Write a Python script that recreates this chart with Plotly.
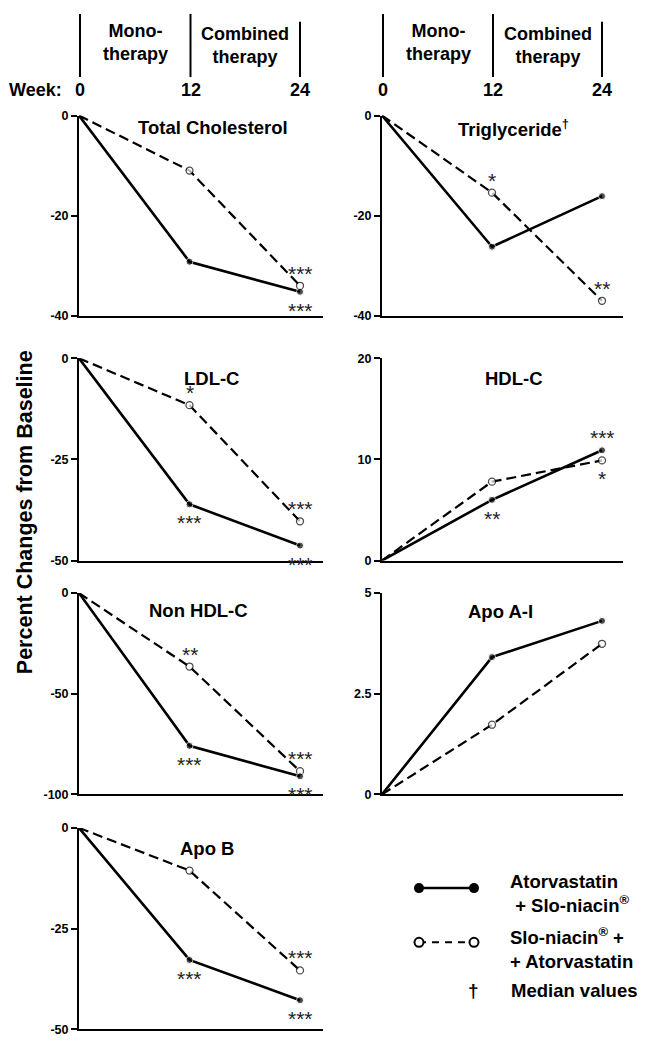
import plotly.graph_objects as go

W, H = 651, 1050
FONT = "Liberation Sans, Arial, sans-serif"

weeks = [0, 12, 24]

panel_names = ["Total Cholesterol", "Triglyceride<sup>†</sup>", "LDL-C", "HDL-C",
               "Non HDL-C", "Apo A-I", "Apo B"]
atorva_first = {
    "Total Cholesterol": [0, -29.2, -35.2],
    "Triglyceride": [0, -26.2, -16.1],
    "LDL-C": [0, -36.1, -46.3],
    "HDL-C": [0, 6.0, 10.9],
    "Non HDL-C": [0, -75.9, -91.0],
    "Apo A-I": [0, 3.41, 4.31],
    "Apo B": [0, -32.8, -42.8],
}
niacin_first = {
    "Total Cholesterol": [0, -11.0, -34.0],
    "Triglyceride": [0, -15.4, -37.0],
    "LDL-C": [0, -11.6, -40.3],
    "HDL-C": [0, 7.8, 9.9],
    "Non HDL-C": [0, -36.5, -88.5],
    "Apo A-I": [0, 1.73, 3.74],
    "Apo B": [0, -10.6, -35.4],
}
y_ranges = {
    "Total Cholesterol": [-40, 0], "Triglyceride": [-40, 0], "LDL-C": [-50, 0],
    "HDL-C": [0, 20], "Non HDL-C": [-100, 0], "Apo A-I": [0, 5], "Apo B": [-50, 0],
}
y_ticks = {
    "Total Cholesterol": [0, -20, -40], "Triglyceride": [0, -20, -40],
    "LDL-C": [0, -25, -50], "HDL-C": [0, 10, 20], "Non HDL-C": [0, -50, -100],
    "Apo A-I": [0, 2.5, 5], "Apo B": [0, -25, -50],
}
# significance marks: (series, week index, text, above?)
stars = {
    "Total Cholesterol": [("n", 2, "***", True), ("a", 2, "***", False)],
    "Triglyceride": [("n", 1, "*", True), ("n", 2, "**", True)],
    "LDL-C": [("n", 1, "*", True), ("a", 1, "***", False), ("n", 2, "***", True), ("a", 2, "***", False)],
    "HDL-C": [("a", 1, "**", False), ("a", 2, "***", True), ("n", 2, "*", False)],
    "Non HDL-C": [("n", 1, "**", True), ("a", 1, "***", False), ("n", 2, "***", True), ("a", 2, "***", False)],
    "Apo A-I": [],
    "Apo B": [("a", 1, "***", False), ("n", 2, "***", True), ("a", 2, "***", False)],
}

# layout in pixels
LEFT = (79, 323, 300)      # x of axis, right end of x axis line, x of week 24
RIGHT = (382, 623, 602)
rows = [(110, 313), (356, 561), (594, 798), (832, 1036)]
cells = [(LEFT, rows[0]), (RIGHT, rows[0]), (LEFT, rows[1]), (RIGHT, rows[1]),
         (LEFT, rows[2]), (RIGHT, rows[2]), (LEFT, rows[3])]
title_pos = [(213, 122), (513, 123), (211, 377), (514, 377), (198, 612), (500, 613), (207, 853)]

def px(x):
    return x / W

def py(y):
    return 1 - y / H

fig = go.Figure()
annotations = []
shapes = []
for i, (title, ((x0, x1, x24), (yt, yb))) in enumerate(zip(panel_names, cells)):
    key = title.replace("<sup>†</sup>", "")
    n = i + 1
    xa = "x" if n == 1 else f"x{n}"
    ya = "y" if n == 1 else f"y{n}"
    xr = [0, 24 * (x1 - x0) / (x24 - x0)]
    fig.add_trace(go.Scatter(
        x=weeks, y=niacin_first[key], xaxis=xa, yaxis=ya, mode="lines+markers",
        line=dict(color="black", width=2.2, dash="10px,5px"),
        marker=dict(symbol="circle", size=[0, 7, 7], color="white",
                    line=dict(color="black", width=1.3)),
        cliponaxis=False, showlegend=False))
    fig.add_trace(go.Scatter(
        x=weeks, y=atorva_first[key], xaxis=xa, yaxis=ya, mode="lines+markers",
        line=dict(color="black", width=2.6),
        marker=dict(symbol="circle", size=[0, 7, 7], color="black"),
        cliponaxis=False, showlegend=False))
    sfx = "" if n == 1 else str(n)
    fig.layout["xaxis" + sfx] = dict(
        domain=[px(x0), px(x1)], range=xr, anchor=ya, showgrid=False, zeroline=False,
        showline=True, linecolor="black", linewidth=2, showticklabels=False, ticks="",
        fixedrange=True)
    fig.layout["yaxis" + sfx] = dict(
        domain=[py(yb), py(yt)], range=y_ranges[key], anchor=xa, showgrid=False,
        zeroline=False, showline=True, linecolor="black", linewidth=2,
        ticks="outside", ticklen=6, tickwidth=1.5, tickcolor="black",
        tickvals=y_ticks[key], ticktext=[f"{v:g}" for v in y_ticks[key]],
        tickfont=dict(family=FONT, size=12.5, color="black", weight="bold"), fixedrange=True)
    tx, ty = title_pos[i]
    annotations.append(dict(
        x=px(tx), y=py(ty), xref="paper", yref="paper",
        text=f"<b>{title}</b>", showarrow=False, xanchor="center", yanchor="middle",
        font=dict(family=FONT, size=18.5, color="black")))
    for ser, wi, txt, above in stars[key]:
        vals = niacin_first[key] if ser == "n" else atorva_first[key]
        annotations.append(dict(
            x=weeks[wi], y=vals[wi], xref=xa, yref=ya, text=txt, showarrow=False,
            xanchor="center", yanchor="middle", yshift=(12.5 if above else -18.5),
            font=dict(family=FONT, size=21, color="#222")))

# header with therapy phases
header_phases = ["<b>Mono-<br>therapy</b>", "<b>Combined<br>therapy</b>"]
header_y = [36, 39]
week_labels = ["0", "12", "24"]
line_tops = [7, 7, 15]
for (x0, x1, x24) in (LEFT, RIGHT):
    xs = [x0 + 1, x0 + 1 + (x24 - x0) / 2, x24]
    for xx, top in zip(xs, line_tops):
        shapes.append(dict(type="line", xref="paper", yref="paper",
                           x0=px(xx), x1=px(xx), y0=py(top), y1=py(71),
                           line=dict(color="black", width=2)))
    for j, lab in enumerate(header_phases):
        annotations.append(dict(
            x=px((xs[j] + xs[j + 1]) / 2), y=py(header_y[j]), xref="paper", yref="paper",
            text=lab, showarrow=False, xanchor="center", yanchor="middle",
            font=dict(family=FONT, size=18, color="black")))
    for xx, lab in zip(xs, week_labels):
        annotations.append(dict(
            x=px(xx), y=py(84), xref="paper", yref="paper", text=f"<b>{lab}</b>",
            showarrow=False, xanchor="center", yanchor="middle",
            font=dict(family=FONT, size=18, color="black")))
annotations.append(dict(
    x=px(7), y=py(84), xref="paper", yref="paper", text="<b>Week:</b>",
    showarrow=False, xanchor="left", yanchor="middle",
    font=dict(family=FONT, size=18, color="black")))

# y-axis title
annotations.append(dict(
    x=px(25), y=py(512), xref="paper", yref="paper",
    text="<b>Percent Changes from Baseline</b>", textangle=-90, showarrow=False,
    xanchor="center", yanchor="middle", font=dict(family=FONT, size=21.5, color="black")))

# legend (drawn manually)
leg_x0, leg_x1 = 419, 474
fig.add_trace(go.Scatter(
    x=[px(leg_x0), px(leg_x1)], y=[py(893), py(893)], xaxis="x8", yaxis="y8",
    mode="lines+markers", line=dict(color="black", width=2.5),
    marker=dict(size=10, color="black"), showlegend=False, cliponaxis=False))
fig.add_trace(go.Scatter(
    x=[px(leg_x0), px(leg_x1)], y=[py(948), py(948)], xaxis="x8", yaxis="y8",
    mode="lines+markers", line=dict(color="black", width=2, dash="7px,6px"),
    marker=dict(size=9, color="white", line=dict(color="black", width=2)),
    showlegend=False, cliponaxis=False))
fig.layout["xaxis8"] = dict(domain=[0, 1], range=[0, 1], visible=False, anchor="y8", fixedrange=True)
fig.layout["yaxis8"] = dict(domain=[0, 1], range=[0, 1], visible=False, anchor="x8", fixedrange=True)

legend_texts = [
    (508, 898, "<b>Atorvastatin<br> + Slo-niacin<sup>®</sup></b>"),
    (508, 954, "<b>Slo-niacin<sup>®</sup> +<br>+ Atorvastatin</b>"),
    (509, 997, "<b>Median values</b>"),
]
for xx, yy, t in legend_texts:
    annotations.append(dict(
        x=px(xx), y=py(yy), xref="paper", yref="paper", text=t, showarrow=False,
        xanchor="left", yanchor="middle", align="left",
        font=dict(family=FONT, size=18.5, color="black")))
annotations.append(dict(
    x=px(474), y=py(997), xref="paper", yref="paper", text="<b>†</b>", showarrow=False,
    xanchor="center", yanchor="middle", font=dict(family=FONT, size=19, color="black")))

fig.update_layout(
    width=W, height=H, margin=dict(l=0, r=0, t=0, b=0),
    paper_bgcolor="white", plot_bgcolor="rgba(0,0,0,0)",
    annotations=annotations, shapes=shapes, showlegend=False,
)
fig.write_html("out.html", config={"displayModeBar": False},
               post_script="document.body.style.margin='0px';")
